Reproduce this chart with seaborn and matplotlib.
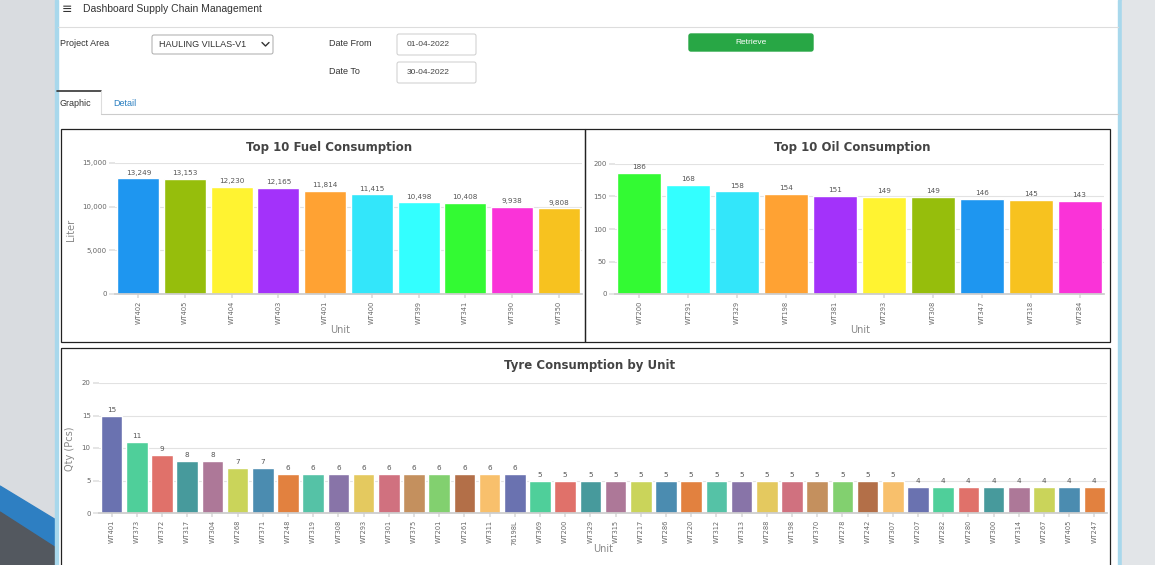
"""Supply chain dashboard: top 10 fuel / oil consumption and tyre consumption by unit."""
import pandas as pd
import seaborn as sns
import matplotlib.pyplot as plt
from matplotlib.patches import Rectangle, FancyBboxPatch, Polygon

# Step 1: data
fuel_units = ["WT402", "WT405", "WT404", "WT403", "WT401",
              "WT400", "WT399", "WT341", "WT390", "WT350"]
fuel_liter = [13249, 13153, 12230, 12165, 11814, 11415, 10498, 10408, 9938, 9808]

oil_units = ["WT200", "WT291", "WT329", "WT198", "WT381",
             "WT293", "WT308", "WT347", "WT318", "WT284"]
oil_liter = [186, 168, 158, 154, 151, 149, 149, 146, 145, 143]

tyre_units = ["WT401", "WT373", "WT372", "WT317", "WT304", "WT268", "WT371", "WT248",
              "WT319", "WT308", "WT293", "WT301", "WT375", "WT201", "WT261", "WT311",
              "76198L", "WT369", "WT200", "WT329", "WT315", "WT217", "WT286", "WT220",
              "WT312", "WT313", "WT288", "WT198", "WT370", "WT278", "WT242", "WT307",
              "WT207", "WT282", "WT280", "WT300", "WT314", "WT267", "WT405", "WT247"]
tyre_qty = [15, 11, 9, 8, 8, 7, 7, 6, 6, 6, 6, 6, 6, 6, 6, 6,
            6, 5, 5, 5, 5, 5, 5, 5, 5, 5, 5, 5, 5, 5, 5, 5,
            4, 4, 4, 4, 4, 4, 4, 4]

fuel_colors = ["#1e96f0", "#96be0c", "#fff331", "#a332fa", "#ffa233",
               "#33e6fa", "#33ffff", "#33fa33", "#fa33d8", "#f7c21f"]
oil_colors = ["#33fa33", "#33ffff", "#33e6fa", "#ffa233", "#a332fa",
              "#fff331", "#96be0c", "#1e96f0", "#f7c21f", "#fa33d8"]
tyre_cycle = ["#6a72b0", "#4fcf9a", "#e0716a", "#479a9c", "#ad7898", "#cad45a",
              "#4b8cb0", "#e2813f", "#55c2a6", "#8874a8", "#e4c95f", "#d0717f",
              "#c4905e", "#82d06f", "#b36f48", "#f8c06c"]
tyre_colors = [tyre_cycle[i % len(tyre_cycle)] for i in range(len(tyre_units))]

W, H = 1155, 565
sns.set_theme(style="white")
plt.rcParams["font.family"] = ["DejaVu Sans"]
ui_font = ["Liberation Sans Narrow", "Liberation Sans", "DejaVu Sans"]

fig = plt.figure(figsize=(W / 100, H / 100), dpi=100)

# Step 2: page chrome drawn in pixel coordinates
bg = fig.add_axes([0, 0, 1, 1], zorder=-5)
bg.set_xlim(0, W)
bg.set_ylim(H, 0)
bg.axis("off")
bg.add_patch(Rectangle((0, 0), 56, H, color="#d9dce0"))
bg.add_patch(Polygon([(0, 486), (56, 520), (56, 548), (0, 512)], color="#2e7fc2"))
bg.add_patch(Polygon([(0, 512), (56, 548), (56, H), (0, H)], color="#53585f"))
bg.add_patch(Rectangle((55, 0), 3, H, color="#a8d8ec"))
bg.add_patch(Rectangle((1118, 0), 4, H, color="#a8d8ec"))
bg.add_patch(Rectangle((1122, 0), W - 1122, H, color="#e2e5e8"))
bg.plot([58, 1118], [27, 27], color="#dddddd", lw=0.8)

bg.text(62, 9, "\u2261", fontsize=9, va="center", color="#333333")
bg.text(83, 9, "Dashboard Supply Chain Management", fontsize=7.5, va="center",
        color="#333333", family=ui_font)

bg.text(60, 44, "Project Area", fontsize=6.5, va="center", color="#333333", family=ui_font)
bg.add_patch(FancyBboxPatch((152, 35), 121, 19, boxstyle="round,pad=0,rounding_size=2",
                            fc="white", ec="#aaaaaa", lw=0.7))
bg.text(203, 44.5, "HAULING VILLAS-V1", fontsize=6.5, ha="center", va="center",
        color="#333333", family=ui_font)
bg.plot([262, 265.5, 269], [42.5, 46, 42.5], color="#333333", lw=1)

bg.text(329, 44, "Date From", fontsize=6.5, va="center", color="#333333", family=ui_font)
bg.text(329, 72, "Date To", fontsize=6.5, va="center", color="#333333", family=ui_font)
for y0, txt in [(34, "01-04-2022"), (62, "30-04-2022")]:
    bg.add_patch(FancyBboxPatch((397, y0), 79, 21, boxstyle="round,pad=0,rounding_size=2",
                                fc="white", ec="#cccccc", lw=0.7))
    bg.text(407, y0 + 11, txt, fontsize=6, va="center", color="#444444", family=ui_font)

bg.add_patch(FancyBboxPatch((689, 34), 124, 17, boxstyle="round,pad=0,rounding_size=2",
                            fc="#28a745", ec="#28a745"))
bg.text(751, 42.5, "Retrieve", fontsize=6, ha="center", va="center", color="white",
        family=ui_font)

bg.plot([57, 101], [91, 91], color="#333333", lw=1.2)
bg.plot([101, 101], [91, 114], color="#dddddd", lw=0.8)
bg.plot([101, 1118], [114, 114], color="#cccccc", lw=0.8)
bg.text(60, 103, "Graphic", fontsize=6.5, va="center", color="#333333", family=ui_font)
bg.text(113, 103, "Detail", fontsize=6.5, va="center", color="#2a7fc0", family=ui_font)

for x0, y0, x1, y1 in [(61, 129, 585, 342), (585, 129, 1110, 342), (61, 348, 1110, 575)]:
    bg.add_patch(Rectangle((x0, y0), x1 - x0, y1 - y0, fc="none", ec="#222222", lw=0.9))


def px_axes(x0, y0, x1, y1):
    return fig.add_axes([x0 / W, 1 - y1 / H, (x1 - x0) / W, (y1 - y0) / H])


# Step 3: one seaborn bar chart per panel
def bar_chart(ax, units, values, colors, yticks, width, fmt):
    df = pd.DataFrame({"unit": units, "value": values})
    sns.barplot(data=df, x="unit", y="value", hue="unit", palette=colors, legend=False,
                width=width, saturation=1, ax=ax)
    for c in ax.containers:
        ax.bar_label(c, fmt=fmt, padding=2, fontsize=5.2, color="#555555")
    ax.set_ylim(yticks[0], yticks[-1])
    ax.set_xlim(-0.5, len(units) - 0.5)
    ax.set_yticks(yticks)
    ax.set_yticklabels([fmt.format(t) for t in yticks])
    ax.yaxis.grid(True, color="#e2e2e2", lw=0.8)
    ax.set_axisbelow(True)
    for s in ["top", "right", "left"]:
        ax.spines[s].set_visible(False)
    ax.spines["bottom"].set_color("#cccccc")
    ax.tick_params(axis="x", rotation=90, labelsize=4.8, labelcolor="#666666",
                   length=3, color="#dddddd", pad=2, bottom=True)
    ax.tick_params(axis="y", labelsize=5, labelcolor="#666666", length=4,
                   color="#e2e2e2", pad=2, left=True)
    ax.set_xlabel("")
    ax.set_ylabel("")
    ax.patch.set_alpha(0)


ax1 = px_axes(115, 163, 582, 294)
bar_chart(ax1, fuel_units, fuel_liter, fuel_colors, [0, 5000, 10000, 15000], 0.9, "{:,.0f}")
ax2 = px_axes(615, 164, 1104, 294)
bar_chart(ax2, oil_units, oil_liter, oil_colors, [0, 50, 100, 150, 200], 0.9, "{:,.0f}")
ax3 = px_axes(99, 383, 1107, 513)
bar_chart(ax3, tyre_units, tyre_qty, tyre_colors, [0, 5, 10, 15, 20], 0.86, "{:,.0f}")

# Step 4: titles and axis labels
title_kw = dict(fontsize=8.5, fontweight="bold", color="#444444", ha="center", va="center")
bg.text(329, 147, "Top 10 Fuel Consumption", **title_kw)
bg.text(852, 147, "Top 10 Oil Consumption", **title_kw)
bg.text(590, 366, "Tyre Consumption by Unit", **title_kw)
lab_kw = dict(fontsize=7, color="#888888", ha="center", va="center")
bg.text(340, 330, "Unit", **lab_kw)
bg.text(860, 330, "Unit", **lab_kw)
bg.text(603, 549, "Unit", **lab_kw)
bg.text(71, 230, "Liter", rotation=90, **lab_kw)
bg.text(70, 449, "Qty (Pcs)", rotation=90, **lab_kw)

fig.savefig("out.png", dpi=100)
